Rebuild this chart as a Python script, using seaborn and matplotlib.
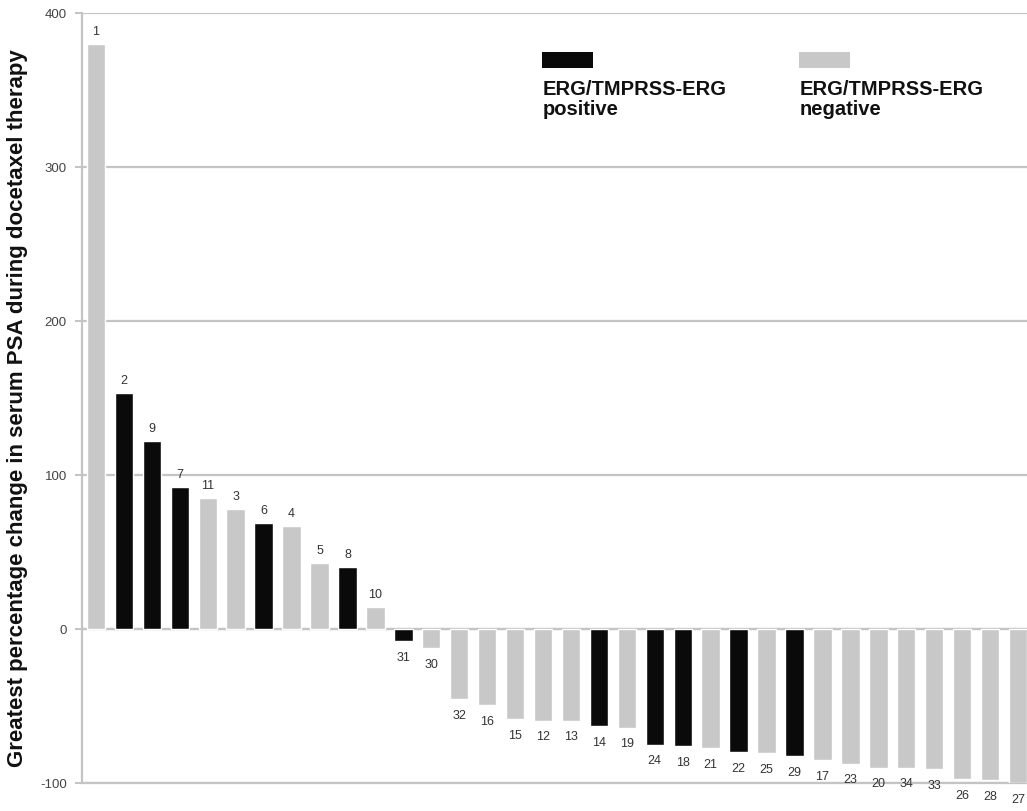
import matplotlib
matplotlib.use("Agg")
import matplotlib.pyplot as plt
from matplotlib.patches import Rectangle
import seaborn as sns
import pandas as pd

# Patients ordered by greatest PSA change during docetaxel therapy
patient_ids = ["1", "2", "9", "7", "11", "3", "6", "4", "5", "8", "10", "31", "30",
               "32", "16", "15", "12", "13", "14", "19", "24", "18", "21", "22",
               "25", "29", "17", "23", "20", "34", "33", "26", "28", "27"]
psa_change = [380, 153, 122, 92, 85, 78, 69, 67, 43, 40.5, 14.5, -8, -12.5,
              -45.5, -49.5, -58.5, -59.5, -59.5, -63, -64, -75, -76, -77.5, -80,
              -80.5, -82.5, -85, -87.5, -90, -90, -91, -97.5, -98, -100]
erg_status = ["neg", "pos", "pos", "pos", "neg", "neg", "pos", "neg", "neg", "pos",
              "neg", "pos", "neg", "neg", "neg", "neg", "neg", "neg", "pos", "neg",
              "pos", "pos", "neg", "pos", "neg", "pos", "neg", "neg", "neg", "neg",
              "neg", "neg", "neg", "neg"]
y_ticks = [-100, 0, 100, 200, 300, 400]

POS_COLOR = "#0a0a0a"
NEG_COLOR = "#c8c8c8"
GRID_COLOR = "#c4c4c4"

df = pd.DataFrame({"patient": patient_ids, "change": psa_change, "erg": erg_status})

sns.set_theme(style="white")
plt.rcParams["font.family"] = ["Liberation Sans", "DejaVu Sans"]

W, H = 1027, 812
fig = plt.figure(figsize=(W / 100, H / 100), dpi=100)
ax = fig.add_axes([82 / W, 1 - 784 / H, 950 / W, (784 - 14) / H])

sns.barplot(data=df, x="patient", y="change", hue="erg", order=patient_ids,
            palette={"pos": POS_COLOR, "neg": NEG_COLOR}, dodge=False,
            width=0.66, legend=False, saturation=1, ax=ax, zorder=3)

ax.set_xlim(-0.5, len(patient_ids) - 0.5)
ax.set_ylim(-100, 400)
ax.set_yticks(y_ticks)
ax.set_yticklabels([str(t) for t in y_ticks], color="#444444", fontsize=9.5)
ax.set_xticks([])
ax.set_xlabel("")
ax.set_ylabel("Greatest percentage change in serum PSA during docetaxel therapy",
              fontsize=16, fontweight="bold", color="#111111")
ax.yaxis.set_label_coords(-0.057, 0.488)

ax.yaxis.grid(True, color=GRID_COLOR, linewidth=1.6, zorder=0)
ax.set_axisbelow(True)
ax.axhline(0, color=GRID_COLOR, linewidth=1.6, zorder=2)
for side in ("top", "right"):
    ax.spines[side].set_visible(False)
for side in ("left", "bottom"):
    ax.spines[side].set_color(GRID_COLOR)
    ax.spines[side].set_linewidth(1.6)
ax.tick_params(axis="y", which="major", left=True, length=5, width=1.4,
               color=GRID_COLOR, pad=6)

# Patient number above positive bars, below negative bars
for i, (pid, val) in enumerate(zip(patient_ids, psa_change)):
    if val >= 0:
        ax.annotate(pid, (i, val), xytext=(0, 5), textcoords="offset points",
                    ha="center", va="bottom", fontsize=9, color="#333333")
    else:
        ax.annotate(pid, (i, val), xytext=(0, -7), textcoords="offset points",
                    ha="center", va="top", fontsize=9, color="#333333",
                    annotation_clip=False)

# Legend: swatch above a two-line label
legend_items = [(542, POS_COLOR, "ERG/TMPRSS-ERG\npositive"),
                (799, NEG_COLOR, "ERG/TMPRSS-ERG\nnegative")]
for x_px, color, label in legend_items:
    fig.patches.append(Rectangle((x_px / W, 1 - 69 / H), 51 / W, 16 / H,
                                 transform=fig.transFigure, facecolor=color,
                                 edgecolor="none"))
    fig.text((x_px + 1) / W, 1 - 80 / H, label, ha="left", va="top",
             fontsize=14.5, fontweight="bold", color="#111111", linespacing=1.05)

fig.savefig("out.png", dpi=100)
